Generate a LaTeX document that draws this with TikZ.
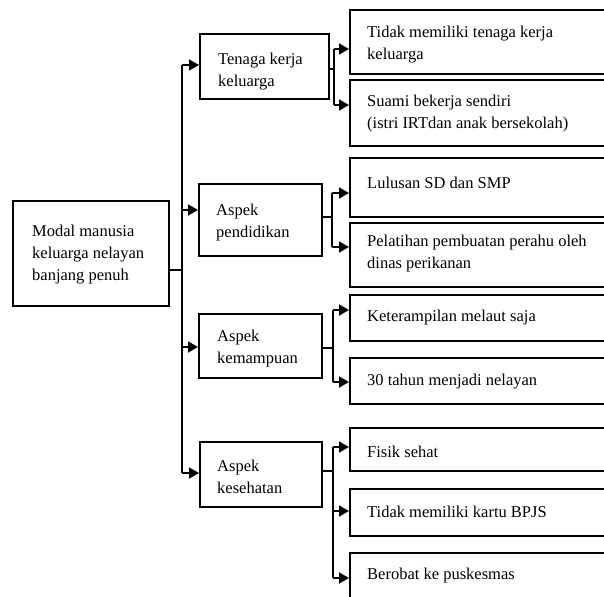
\documentclass[tikz,border=0pt]{standalone}
\usepackage{fontspec}
\setmainfont{Liberation Serif}
\usetikzlibrary{arrows.meta}
\begin{document}
\begin{tikzpicture}[x=1pt,y=-1pt,
  box/.style={draw=black,line width=2pt,rectangle,inner sep=0pt},
  txt/.style={inner sep=0pt,anchor=west,align=left,font=\fontsize{16.5}{22}\selectfont},
  conn/.style={line width=1.8pt},
  arr/.style={line width=1.8pt,-{Triangle[length=10pt,width=11pt]}}]
\useasboundingbox (0,0) rectangle (604,596);
\clip (0,0) rectangle (604,596);
% boxes
\node[box,minimum width=156pt,minimum height=105pt] (root) at (91,253.5) {};
\node[box,minimum width=129pt,minimum height=65pt] (L1) at (264.5,66.5) {};
\node[box,minimum width=123pt,minimum height=72pt] (L2) at (260.5,220) {};
\node[box,minimum width=123pt,minimum height=64pt] (L3) at (260.5,346) {};
\node[box,minimum width=122pt,minimum height=65pt] (L4) at (261,474.5) {};
\node[box,minimum width=290pt,minimum height=64pt] (a) at (495,42) {};
\node[box,minimum width=290pt,minimum height=66pt] (b) at (495,113) {};
\node[box,minimum width=290pt,minimum height=59pt] (c) at (495,187.5) {};
\node[box,minimum width=290pt,minimum height=64pt] (d) at (495,255) {};
\node[box,minimum width=290pt,minimum height=46pt] (e) at (495,318) {};
\node[box,minimum width=290pt,minimum height=46pt] (f) at (495,381) {};
\node[box,minimum width=290pt,minimum height=43pt] (g) at (495,449.5) {};
\node[box,minimum width=290pt,minimum height=47pt] (h) at (495,512.5) {};
\node[box,minimum width=290pt,minimum height=87pt] (i) at (495,596) {};
% texts
\node[txt] (troot) at (32,255) {Modal manusia\\keluarga nelayan\\banjang penuh};
\node[txt] (tL1) at (218,72) {Tenaga kerja\\keluarga};
\node[txt] (tL2) at (216,222.5) {Aspek\\pendidikan};
\node[txt] (tL3) at (217,348.5) {Aspek\\kemampuan};
\node[txt] (tL4) at (217,477) {Aspek\\kesehatan};
\node[txt] (ta) at (367,45) {Tidak memiliki tenaga kerja\\keluarga};
\node[txt] (tb) at (367,113.5) {Suami bekerja sendiri\\(istri IRTdan anak bersekolah)};
\node[txt] (tc) at (367,183) {Lulusan SD dan SMP};
\node[txt] (td) at (367,253.5) {Pelatihan pembuatan perahu oleh\\dinas perikanan};
\node[txt] (te) at (367,318) {Keterampilan melaut saja};
\node[txt] (tf) at (367,381.5) {30 tahun menjadi nelayan};
\node[txt] (tg) at (367,451.5) {Fisik sehat};
\node[txt] (th) at (367,511.5) {Tidak memiliki kartu BPJS};
\node[txt] (ti) at (367,576) {Berobat ke puskesmas};
% trunk
\coordinate (j0) at (182,270);
\coordinate (j1) at (182,65);
\coordinate (j2) at (182,210);
\coordinate (j3) at (182,347);
\coordinate (j4) at (182,473);
\draw[conn] (root.east |- j0) -- (j0);
\draw[conn] (j1) -- (j4);
\draw[arr] (j1) -- (L1.west |- j1);
\draw[arr] (j2) -- (L2.west |- j2);
\draw[arr] (j3) -- (L3.west |- j3);
\draw[arr] (j4) -- (L4.west |- j4);
% L1 branch
\coordinate (k1) at (334,69);
\coordinate (k1a) at (334,49);
\coordinate (k1b) at (334,105);
\draw[conn] (L1.east |- k1) -- (k1);
\draw[conn] (k1a) -- (k1b);
\draw[arr] (k1a) -- (a.west |- k1a);
\draw[arr] (k1b) -- (b.west |- k1b);
% L2 branch
\coordinate (k2) at (332,217);
\coordinate (k2a) at (332,193);
\coordinate (k2b) at (332,247);
\draw[conn] (L2.east |- k2) -- (k2);
\draw[conn] (k2a) -- (k2b);
\draw[arr] (k2a) -- (c.west |- k2a);
\draw[arr] (k2b) -- (d.west |- k2b);
% L3 branch
\coordinate (k3) at (333,348);
\coordinate (k3a) at (333,310);
\coordinate (k3b) at (333,382);
\draw[conn] (L3.east |- k3) -- (k3);
\draw[conn] (k3a) -- (k3b);
\draw[arr] (k3a) -- (e.west |- k3a);
\draw[arr] (k3b) -- (f.west |- k3b);
% L4 branch
\coordinate (k4) at (333,471);
\coordinate (k4a) at (333,447);
\coordinate (k4b) at (333,511);
\coordinate (k4c) at (333,578);
\draw[conn] (L4.east |- k4) -- (k4);
\draw[conn] (k4a) -- (k4c);
\draw[arr] (k4a) -- (g.west |- k4a);
\draw[arr] (k4b) -- (h.west |- k4b);
\draw[arr] (k4c) -- (i.west |- k4c);
\end{tikzpicture}
\end{document}
